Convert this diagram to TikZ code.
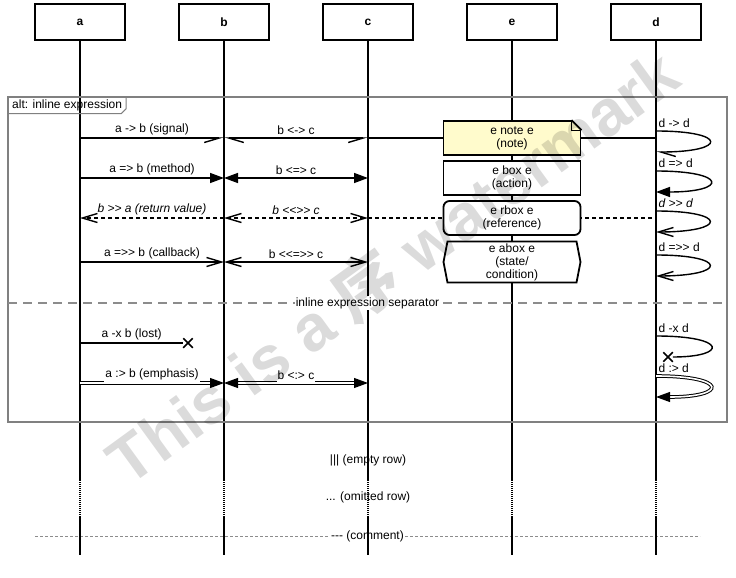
\documentclass[tikz,border=0pt]{standalone}
\usepackage{fontspec}
\newfontfamily\mscfont{Liberation Sans}
\newfontfamily\cjkfont{Noto Sans CJK SC}
\usetikzlibrary{arrows.meta,shapes.misc,shapes.symbols}

\definecolor{notefill}{RGB}{255,251,204}
\definecolor{framegray}{RGB}{128,128,128}
\definecolor{sepgray}{RGB}{140,140,140}

\newcommand{\mscsize}{\fontsize{12}{13}\selectfont}

\begin{document}
\begin{tikzpicture}[x=1pt, y=-1pt, node distance=144pt,
        every node/.style={font=\mscfont\mscsize}]

    % Styles for nodes
    \tikzstyle{entity} = [draw, line width=1.6pt, fill=white, minimum width=90pt, minimum height=36pt, font=\mscfont\bfseries\mscsize]
    \tikzstyle{ebox} = [draw, line width=1.8pt, fill=white, minimum width=137pt, minimum height=34pt, align=center, inner sep=1pt]
    \tikzstyle{notebox} = [ebox, fill=notefill]
    \tikzstyle{actionbox} = [ebox]
    \tikzstyle{refbox} = [ebox, rounded corners=6pt]
    \tikzstyle{statebox} = [ebox, shape=signal, signal to=west and east, signal pointer angle=158, minimum height=41pt]
    \tikzstyle{lost} = [cross out, draw, line width=1.5pt, minimum size=8pt, inner sep=0pt]
    \tikzstyle{lbl} = [above, inner ysep=2.5pt, inner xsep=1pt]
    \tikzstyle{loop lbl} = [anchor=base west, yshift=4pt, inner sep=2pt]
    \tikzstyle{ital} = [font=\mscfont\itshape\mscsize]

    % Styles for arcs
    \tikzstyle{lifeline} = [line width=1.6pt]
    \tikzstyle{arc} = [line width=1.4pt]
    \tikzstyle{signal} = [arc, -{Straight Barb[harpoon, swap, length=15pt, width=9pt]}]
    \tikzstyle{signal back} = [arc, -{Straight Barb[harpoon, length=15pt, width=9pt]}]
    \tikzstyle{signal both} = [arc, {Straight Barb[harpoon, length=15pt, width=9pt]}-{Straight Barb[harpoon, swap, length=15pt, width=9pt]}]
    \tikzstyle{method} = [arc, -{Triangle[length=14pt, width=10pt]}]
    \tikzstyle{method both} = [arc, {Triangle[length=14pt, width=10pt]}-{Triangle[length=14pt, width=10pt]}]
    \tikzstyle{return} = [arc, dash pattern=on 4pt off 3pt, -{Straight Barb[length=15pt, width=9pt]}]
    \tikzstyle{return both} = [arc, dash pattern=on 4pt off 3pt, {Straight Barb[length=15pt, width=9pt]}-{Straight Barb[length=15pt, width=9pt]}]
    \tikzstyle{callback} = [arc, -{Straight Barb[length=15pt, width=9pt]}]
    \tikzstyle{callback both} = [arc, {Straight Barb[length=15pt, width=9pt]}-{Straight Barb[length=15pt, width=9pt]}]
    \tikzstyle{emphasis} = [line width=1pt, double, double distance=1.6pt, -{Triangle[length=14pt, width=10pt]}]
    \tikzstyle{emphasis both} = [line width=1pt, double, double distance=1.6pt, {Triangle[length=14pt, width=10pt]}-{Triangle[length=14pt, width=10pt]}]
    \tikzstyle{frame} = [draw=framegray, line width=2pt]
    \tikzstyle{separator} = [sepgray, line width=1.8pt, dash pattern=on 9pt off 6pt]
    \tikzstyle{comment} = [sepgray, line width=1pt, dash pattern=on 3pt off 2pt]
    \tikzstyle{watermark} = [rotate=36, text=black, text opacity=0.14, font=\mscfont\bfseries\fontsize{65}{65}\selectfont]

    \useasboundingbox (0,0) rectangle (736,578);

    % Entities
    \node[entity] (a) at (80,22) {a};
    \node[entity] (b) [right of=a] {b};
    \node[entity] (c) [right of=b] {c};
    \node[entity] (e) [right of=c] {e};
    \node[entity] (d) [right of=e] {d};

    % Rows
    \coordinate (row1) at (0,138);
    \coordinate (row2) at (0,178);
    \coordinate (row3) at (0,218);
    \coordinate (row4) at (0,262);
    \coordinate (row5) at (0,343);
    \coordinate (row6) at (0,383);
    \coordinate (dots top) at (0,480);
    \coordinate (dots bot) at (0,516);
    \coordinate (life end) at (0,555);

    \coordinate (a1) at (a |- row1); \coordinate (b1) at (b |- row1); \coordinate (c1) at (c |- row1); \coordinate (e1) at (e |- row1); \coordinate (d1) at (d |- row1);
    \coordinate (a2) at (a |- row2); \coordinate (b2) at (b |- row2); \coordinate (c2) at (c |- row2); \coordinate (e2) at (e |- row2); \coordinate (d2) at (d |- row2);
    \coordinate (a3) at (a |- row3); \coordinate (b3) at (b |- row3); \coordinate (c3) at (c |- row3); \coordinate (e3) at (e |- row3); \coordinate (d3) at (d |- row3);
    \coordinate (a4) at (a |- row4); \coordinate (b4) at (b |- row4); \coordinate (c4) at (c |- row4); \coordinate (e4) at (e |- row4); \coordinate (d4) at (d |- row4);
    \coordinate (a5) at (a |- row5); \coordinate (d5) at (d |- row5);
    \coordinate (a6) at (a |- row6); \coordinate (b6) at (b |- row6); \coordinate (c6) at (c |- row6); \coordinate (d6) at (d |- row6);

    % Comment row (under the lifelines)
    \coordinate (cmt w) at (35,536);
    \coordinate (cmt e) at (700,536);
    \draw[comment] (cmt w) -- node[fill=white, inner sep=1pt, text=black] {--- (comment)} (cmt e);

    % Lifelines
    \coordinate (a7) at (a |- dots top); \coordinate (a8) at (a |- dots bot); \coordinate (a9) at (a |- life end);
    \coordinate (b7) at (b |- dots top); \coordinate (b8) at (b |- dots bot); \coordinate (b9) at (b |- life end);
    \coordinate (c7) at (c |- dots top); \coordinate (c8) at (c |- dots bot); \coordinate (c9) at (c |- life end);
    \coordinate (e7) at (e |- dots top); \coordinate (e8) at (e |- dots bot); \coordinate (e9) at (e |- life end);
    \coordinate (d7) at (d |- dots top); \coordinate (d8) at (d |- dots bot); \coordinate (d9) at (d |- life end);
    \draw[lifeline] (a) -- (a7); \draw[lifeline, line width=1.2pt, dash pattern=on 1pt off 1pt] (a7) -- (a8); \draw[lifeline] (a8) -- (a9);
    \draw[lifeline] (b) -- (b7); \draw[lifeline, line width=1.2pt, dash pattern=on 1pt off 1pt] (b7) -- (b8); \draw[lifeline] (b8) -- (b9);
    \draw[lifeline] (c) -- (c7); \draw[lifeline, line width=1.2pt, dash pattern=on 1pt off 1pt] (c7) -- (c8); \draw[lifeline] (c8) -- (c9);
    \draw[lifeline] (e) -- (e7); \draw[lifeline, line width=1.2pt, dash pattern=on 1pt off 1pt] (e7) -- (e8); \draw[lifeline] (e8) -- (e9);
    \draw[lifeline] (d) -- (d7); \draw[lifeline, line width=1.2pt, dash pattern=on 1pt off 1pt] (d7) -- (d8); \draw[lifeline] (d8) -- (d9);

    % Inline expression frame
    \coordinate (frame nw) at (8,97);
    \coordinate (frame se) at (727,422);
    \draw[frame] (frame nw) rectangle (frame se);
    \node[anchor=north west, inner xsep=4pt, inner ysep=2.5pt] (alt) at (frame nw) {alt: inline expression};
    \draw[framegray, line width=1pt] (alt.north east) -- ([yshift=5pt]alt.south east) -- ([xshift=-5pt]alt.south east) -- (alt.south west);
    \coordinate (sep w) at (frame nw |- 0,303);
    \coordinate (sep e) at (frame se |- 0,303);
    \draw[separator] (sep w) -- node[fill=white, inner sep=1pt, text=black] {inline expression separator} (sep e);

    % Arcs
    \draw[signal] (a1) -- node[lbl] {a -> b (signal)} (b1);
    \draw[signal both] (b1) -- node[lbl] {b <-> c} (c1);
    \draw[arc] (c1) -- (d1);
    \draw[method] (a2) -- node[lbl] {a => b (method)} (b2);
    \draw[method both] (b2) -- node[lbl] {b <=> c} (c2);
    \draw[return] (b3) -- node[lbl, ital] {b >> a (return value)} (a3);
    \draw[return both] (b3) -- node[lbl, ital] {b <<>> c} (c3);
    \draw[arc, dash pattern=on 4pt off 3pt] (c3) -- (d3);
    \draw[callback] (a4) -- node[lbl] {a =>> b (callback)} (b4);
    \draw[callback both] (b4) -- node[lbl] {b <<=>> c} (c4);
    \node[lost] (x5) at ([xshift=108pt]a5) {};
    \draw[arc] (a5) -- node[lbl] {a -x b (lost)} (x5);
    \draw[emphasis] (a6) -- node[lbl, fill=white] {a :> b (emphasis)} (b6);
    \draw[emphasis both] (b6) -- node[lbl, fill=white] {b <:> c} (c6);

    % Boxes on e
    \node[notebox] (note) at (e1) {e note e\\(note)};
    \fill[white] ([xshift=-10pt]note.north east) -- (note.north east) -- ([yshift=-10pt]note.north east) -- cycle;
    \draw[line width=1.8pt] ([xshift=-10pt]note.north east) -- ([yshift=-10pt]note.north east);
    \draw[line width=0.6pt] ([xshift=-10pt]note.north east) |- ([yshift=-10pt]note.north east);
    \node[actionbox] (action) at (e2) {e box e\\(action)};
    \node[refbox] (reference) at (e3) {e rbox e\\(reference)};
    \node[statebox] (condition) at (e4) {e abox e\\(state/\\condition)};

    % Self arcs on d
    \coordinate (d1s) at ([yshift=7pt]d1); \coordinate (d1e) at ([yshift=-14pt]d1);
    \coordinate (d2s) at ([yshift=7pt]d2); \coordinate (d2e) at ([yshift=-14pt]d2);
    \coordinate (d3s) at ([yshift=7pt]d3); \coordinate (d3e) at ([yshift=-14pt]d3);
    \coordinate (d4s) at ([yshift=7pt]d4); \coordinate (d4e) at ([yshift=-14pt]d4);
    \coordinate (d5s) at ([yshift=7pt]d5); \coordinate (d5e) at ([yshift=-14pt]d5);
    \coordinate (d6s) at ([yshift=7pt]d6); \coordinate (d6e) at ([yshift=-14pt]d6);
    \draw[signal back] (d1s) node[loop lbl] {d -> d} .. controls +(72,0) and +(72,0) .. (d1e);
    \draw[method] (d2s) node[loop lbl] {d => d} .. controls +(72,0) and +(72,0) .. (d2e);
    \draw[callback] (d3s) node[loop lbl, ital] {d >> d} .. controls +(72,0) and +(72,0) .. (d3e);
    \draw[callback] (d4s) node[loop lbl] {d =>> d} .. controls +(72,0) and +(72,0) .. (d4e);
    \node[lost] (x6) at ([xshift=12pt]d5e) {};
    \draw[arc] (d5s) node[loop lbl] {d -x d} .. controls +(72,0) and +(60,0) .. (x6);
    \draw[emphasis] (d6s) node[loop lbl] {d :> d} .. controls +(72,0) and +(72,0) .. (d6e);

    % Empty and omitted rows
    \node (empty) at (c |- 0,460) {||| (empty row)};
    \node (omitted) at (c |- 0,497) {... (omitted row)};

    % Watermark
    \node[watermark] (mark) at (392,266) {This is a {\cjkfont 序} watermark};

\end{tikzpicture}
\end{document}
